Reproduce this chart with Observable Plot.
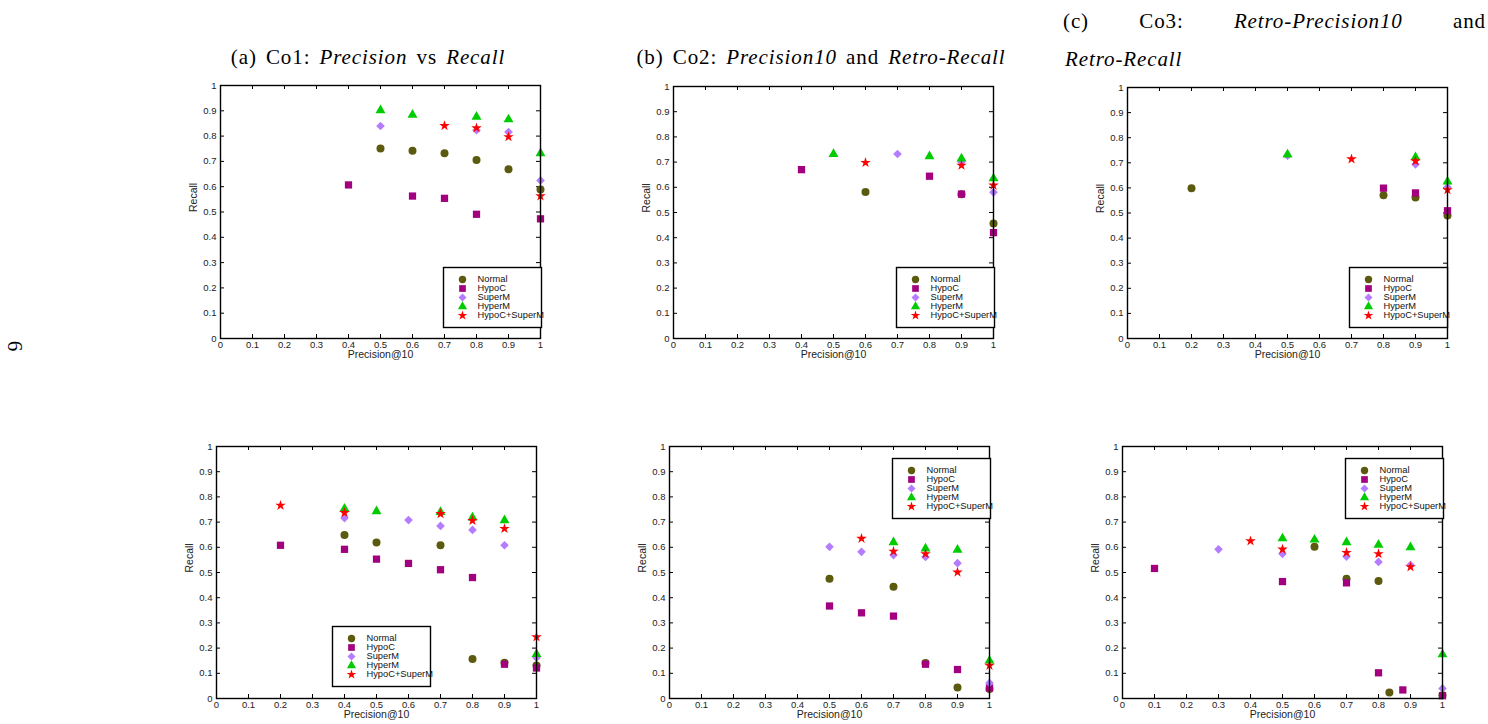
<!DOCTYPE html>
<html><head><meta charset="utf-8">
<script src="https://cdn.jsdelivr.net/npm/d3@7"></script>
<script src="https://cdn.jsdelivr.net/npm/@observablehq/plot@0.6"></script>
<style>
body{margin:0;background:#fff;}
#root{position:relative;width:1488px;height:724px;overflow:hidden;background:#fff;}
.abs{position:absolute;}
.title{font-family:"Liberation Serif","Times New Roman",serif;font-size:21px;letter-spacing:0.9px;word-spacing:3px;color:#000;white-space:nowrap;line-height:1;}
</style></head><body><div id="root"></div>
<script>
// ---------- shared definitions ----------
const seriesNames = ["Normal", "HypoC", "SuperM", "HyperM", "HypoC+SuperM"];
const seriesColors = ["#5c5a0e", "#a3007f", "#b47cff", "#00cc00", "#ff0000"];
const seriesSymbols = ["circle", "square", "diamond2", "triangle", "star"];
const seriesR = [4, 4.1, 3.9, 3.7, 3.3];
const tickValues = [0, 0.1, 0.2, 0.3, 0.4, 0.5, 0.6, 0.7, 0.8, 0.9, 1];
const tickLabels = ["0", "0.1", "0.2", "0.3", "0.4", "0.5", "0.6", "0.7", "0.8", "0.9", "1"];
const xLabel = "Precision@10";
const yLabel = "Recall";

// ---------- data (Precision@10, Recall) ----------
const topA = {
  "Normal":       [[0.5,0.751],[0.6,0.742],[0.7,0.732],[0.8,0.706],[0.9,0.669],[1.0,0.589]],
  "HypoC":        [[0.4,0.607],[0.6,0.563],[0.7,0.554],[0.8,0.491],[1.0,0.473]],
  "SuperM":       [[0.5,0.840],[0.8,0.823],[0.9,0.816],[1.0,0.625]],
  "HyperM":       [[0.5,0.902],[0.6,0.884],[0.8,0.876],[0.9,0.866],[1.0,0.732]],
  "HypoC+SuperM": [[0.7,0.841],[0.8,0.832],[0.9,0.797],[1.0,0.563]]
};
const topB = {
  "Normal":       [[0.6,0.581],[0.9,0.572],[1.0,0.456]],
  "HypoC":        [[0.4,0.670],[0.8,0.644],[0.9,0.573],[1.0,0.420]],
  "SuperM":       [[0.7,0.732],[0.9,0.700],[1.0,0.580]],
  "HyperM":       [[0.5,0.732],[0.8,0.723],[0.9,0.714],[1.0,0.635]],
  "HypoC+SuperM": [[0.6,0.698],[0.9,0.687],[1.0,0.608]]
};
const topC = {
  "Normal":       [[0.2,0.599],[0.8,0.571],[0.9,0.562],[1.0,0.490]],
  "HypoC":        [[0.8,0.599],[0.9,0.580],[1.0,0.509]],
  "SuperM":       [[0.5,0.728],[0.9,0.694],[1.0,0.603]],
  "HyperM":       [[0.5,0.733],[0.9,0.722],[1.0,0.625]],
  "HypoC+SuperM": [[0.7,0.715],[0.9,0.707],[1.0,0.592]]
};
const botA = {
  "Normal":       [[0.4,0.649],[0.5,0.619],[0.7,0.608],[0.8,0.157],[0.9,0.142],[1.0,0.131]],
  "HypoC":        [[0.2,0.608],[0.4,0.592],[0.5,0.553],[0.6,0.536],[0.7,0.511],[0.8,0.480],[0.9,0.136],[1.0,0.121]],
  "SuperM":       [[0.4,0.716],[0.6,0.708],[0.7,0.685],[0.8,0.669],[0.9,0.608],[1.0,0.162]],
  "HyperM":       [[0.4,0.753],[0.5,0.743],[0.7,0.740],[0.8,0.718],[0.9,0.707],[1.0,0.176]],
  "HypoC+SuperM": [[0.2,0.766],[0.4,0.737],[0.7,0.733],[0.8,0.706],[0.9,0.674],[1.0,0.244]]
};
const botB = {
  "Normal":       [[0.5,0.475],[0.7,0.443],[0.8,0.141],[0.9,0.044],[1.0,0.038]],
  "HypoC":        [[0.5,0.367],[0.6,0.340],[0.7,0.327],[0.8,0.136],[0.9,0.115],[1.0,0.042]],
  "SuperM":       [[0.5,0.602],[0.6,0.582],[0.7,0.569],[0.8,0.562],[0.9,0.537],[1.0,0.062]],
  "HyperM":       [[0.7,0.620],[0.8,0.595],[0.9,0.590],[1.0,0.150]],
  "HypoC+SuperM": [[0.6,0.635],[0.7,0.584],[0.8,0.574],[0.9,0.501],[1.0,0.131]]
};
const botC = {
  "Normal":       [[0.6,0.602],[0.7,0.475],[0.8,0.466],[0.834,0.024],[1.0,0.013]],
  "HypoC":        [[0.1,0.516],[0.5,0.464],[0.7,0.459],[0.8,0.102],[0.876,0.034],[1.0,0.011]],
  "SuperM":       [[0.3,0.592],[0.5,0.574],[0.7,0.563],[0.8,0.542],[0.9,0.530],[1.0,0.040]],
  "HyperM":       [[0.5,0.635],[0.6,0.630],[0.7,0.620],[0.8,0.610],[0.9,0.600],[1.0,0.175]],
  "HypoC+SuperM": [[0.4,0.625],[0.5,0.592],[0.7,0.579],[0.8,0.574],[0.9,0.522]]
};

// ---------- layout ----------
const panels = [
  {data: topA, left: 220, top: 85, h: 253, legLeft: 223, legTop: 182},
  {data: topB, left: 673, top: 86, h: 252, legLeft: 223, legTop: 181},
  {data: topC, left: 1127, top: 87, h: 251, legLeft: 222, legTop: 180},
  {data: botA, left: 216, top: 446, h: 252, legLeft: 116, legTop: 180},
  {data: botB, left: 669, top: 446, h: 252, legLeft: 223, legTop: 12},
  {data: botC, left: 1122, top: 446, h: 252, legLeft: 223, legTop: 12}
];

const root = document.getElementById("root");
const FONT = "'Liberation Sans', Arial, Helvetica, sans-serif";
const fmt = d => tickLabels[Math.round(d * 10)];

function makePanel(p) {
  const mL = 50, mR = 14, mT = 10, mB = 40, fw = 320, fh = p.h;
  const marks = [
    Plot.tickX(tickValues, {x: d => d, insetTop: fh - 4, stroke: "#000", strokeWidth: 1}),
    Plot.tickX(tickValues, {x: d => d, insetBottom: fh - 4, stroke: "#000", strokeWidth: 1}),
    Plot.tickY(tickValues, {y: d => d, insetLeft: fw - 4, stroke: "#000", strokeWidth: 1}),
    Plot.tickY(tickValues, {y: d => d, insetRight: fw - 4, stroke: "#000", strokeWidth: 1}),
    Plot.axisX(tickValues, {tickSize: 0, tickPadding: 3, tickFormat: fmt, fontSize: 9.5, fill: "#222", label: null}),
    Plot.axisY(tickValues, {tickSize: 0, tickPadding: 4, tickFormat: fmt, fontSize: 9.5, fill: "#222", label: null}),
    Plot.text([xLabel], {frameAnchor: "bottom", dy: 19, text: d => d, fontSize: 10.5, fill: "#222"}),
    Plot.text([yLabel], {frameAnchor: "left", dx: -27, rotate: -90, text: d => d, fontSize: 10.5, fill: "#222"})
  ];
  seriesNames.forEach((name, i) => {
    marks.push(Plot.dot(p.data[name], {
      x: d => d[0], y: d => d[1], symbol: seriesSymbols[i], fill: seriesColors[i], r: seriesR[i], stroke: "none"
    }));
  });
  marks.push(Plot.frame({stroke: "#000", strokeWidth: 1.4}));
  const svg = Plot.plot({
    width: fw + mL + mR, height: fh + mT + mB,
    marginLeft: mL, marginRight: mR, marginTop: mT, marginBottom: mB,
    x: {domain: [0, 1], axis: null},
    y: {domain: [0, 1], axis: null},
    style: {fontFamily: FONT, background: "transparent", overflow: "visible"},
    marks
  });
  svg.style.position = "absolute";
  svg.style.left = (p.left - mL) + "px";
  svg.style.top = (p.top - mT) + "px";
  root.appendChild(svg);

  // legend box
  const lw = 98, lh = 60;
  const lmarks = [Plot.frame({fill: "white", stroke: "#000", strokeWidth: 1.4})];
  seriesNames.forEach((name, i) => {
    lmarks.push(Plot.dot([name], {
      frameAnchor: "left", dx: 19, y: d => d, symbol: seriesSymbols[i], fill: seriesColors[i], r: seriesR[i] * 0.92, stroke: "none"
    }));
  });
  lmarks.push(Plot.text(seriesNames, {frameAnchor: "left", dx: 34, y: d => d, text: d => d, textAnchor: "start", fontSize: 9.3, fill: "#111"}));
  const leg = Plot.plot({
    width: lw, height: lh, margin: 0,
    x: {domain: [0, 1], axis: null},
    y: {type: "point", domain: seriesNames, range: [6.5, 53.5], axis: null},
    style: {fontFamily: FONT, background: "transparent", overflow: "visible"},
    marks: lmarks
  });
  leg.style.position = "absolute";
  leg.style.left = (p.left + p.legLeft) + "px";
  leg.style.top = (p.top + p.legTop) + "px";
  root.appendChild(leg);
}
panels.forEach(makePanel);

// ---------- titles ----------
function addHTML(html) {
  const t = document.createElement("div");
  t.innerHTML = html;
  root.appendChild(t.firstElementChild);
}
addHTML('<div class="title abs" style="left:368px;top:47px;transform:translateX(-50%)">(a) Co1: <i>Precision</i> vs <i>Recall</i></div>');
addHTML('<div class="title abs" style="left:821px;top:47px;transform:translateX(-50%)">(b) Co2: <i>Precision10</i> and <i>Retro-Recall</i></div>');
addHTML('<div class="title abs" style="left:1063px;top:11px;width:423px;display:flex;justify-content:space-between;word-spacing:0"><span>(c)</span><span>Co3:</span><span><i>Retro-Precision10</i></span><span>and</span></div>');
addHTML('<div class="title abs" style="left:1065px;top:49px"><i>Retro-Recall</i></div>');
addHTML('<div class="title abs" style="left:9px;top:336px;transform:rotate(90deg);transform-origin:center">6</div>');
</script>
</body></html>
